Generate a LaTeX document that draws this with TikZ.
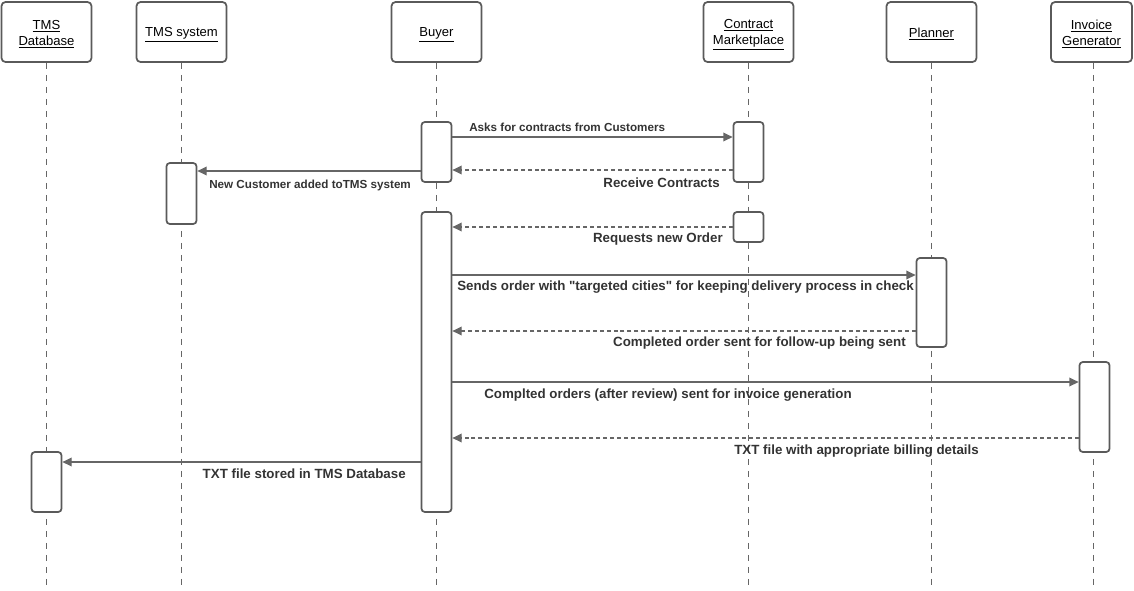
\documentclass[tikz,border=0pt]{standalone}
\usepackage{fontspec}
\setmainfont{Liberation Sans}[Ligatures=TeXOff]
\usetikzlibrary{arrows.meta}
\definecolor{linegray}{HTML}{666666}
\definecolor{boxgray}{HTML}{5A5A5A}
\definecolor{txtgray}{HTML}{333333}

\begin{document}
\begin{tikzpicture}[x=0.75pt,y=-0.75pt,>={Triangle[length=7pt,width=6.5pt]},
  actortext/.style={font=\fontsize{9.8}{12}\selectfont, text=black, align=center,
    inner sep=0pt, yshift=-1.8pt},
  actor/.style={draw=boxgray, line width=1.3pt, rounded corners=3pt, fill=white,
    minimum width=67.5pt, minimum height=45pt, inner sep=0pt,
    label={[actortext]center:#1}},
  lifeline/.style={draw=linegray, line width=0.8pt, dash pattern=on 4.5pt off 4.5pt},
  act/.style={draw=boxgray, line width=1.3pt, rounded corners=2.5pt, fill=white,
    minimum width=22.5pt, inner sep=0pt},
  msg/.style={draw=linegray, line width=1.05pt, ->},
  reply/.style={msg, dash pattern=on 3pt off 2.2pt},
  lbl/.style={font=\bfseries\fontsize{10}{12}\selectfont, text=txtgray, inner sep=0pt},
  smalllbl/.style={lbl, font=\bfseries\fontsize{8.75}{10.5}\selectfont}]

  \useasboundingbox (0,0) rectangle (1134,590);

  % Participants
  \node[actor={\underline{TMS}\\\underline{Database}}] (db) at (46.5,32) {};
  \node[actor={\underline{TMS system}}] (tms) at (181.5,32) {};
  \node[actor={\underline{Buyer}}] (buyer) at (436.5,32) {};
  \node[actor={\underline{Contract}\\\underline{Marketplace}}] (market) at (748.5,32) {};
  \node[actor={\underline{Planner}}] (planner) at (931.5,32) {};
  \node[actor={\underline{Invoice}\\\underline{Generator}}, minimum width=60.75pt] (invoice) at (1091.5,32) {};

  % Lifelines
  \coordinate (dbend) at (46.5,588);
  \coordinate (tmsend) at (181.5,588);
  \coordinate (buyerend) at (436.5,588);
  \coordinate (marketend) at (748.5,588);
  \coordinate (plannerend) at (931.5,588);
  \coordinate (invoiceend) at (1093.5,588);
  \draw[lifeline] (db) -- (dbend);
  \draw[lifeline] (tms) -- (tmsend);
  \draw[lifeline] (buyer) -- (buyerend);
  \draw[lifeline] (market) -- (marketend);
  \draw[lifeline] (planner) -- (plannerend);
  \draw[lifeline] (invoice.south -| invoiceend) -- (invoiceend);

  % Activations
  \node[act, minimum height=45pt] (buyerA) at (436.5,152) {};
  \node[act, minimum height=45pt] (marketA) at (748.5,152) {};
  \node[act, minimum height=45.75pt] (tmsA) at (181.5,193.5) {};
  \node[act, minimum height=225pt] (buyerB) at (436.5,362) {};
  \node[act, minimum height=22.5pt] (marketB) at (748.5,227) {};
  \node[act, minimum height=66.75pt] (plannerA) at (931.5,302.5) {};
  \node[act, minimum height=67.5pt] (invoiceA) at (1094.5,407) {};
  \node[act, minimum height=45pt] (dbA) at (46.5,482) {};

  % Messages
  \draw[msg] (buyerA.east |- 0,137) -- (marketA.west |- 0,137);
  \node[smalllbl, anchor=west] (asks) at (469,127) {Asks for contracts from Customers};

  \draw[reply] (marketA.west |- 0,170) -- (buyerA.east |- 0,170);
  \node[lbl, anchor=east] (receive) at (720,183) {Receive Contracts};

  \draw[msg] (buyerA.west |- 0,171) -- (tmsA.east |- 0,171);
  \node[smalllbl, anchor=west] (newcust) at (209,185) {New Customer added toTMS system};

  \draw[reply] (marketB.west) -- (buyerB.east |- marketB.west);
  \node[lbl, anchor=east] (requests) at (723,239) {Requests new Order};

  \draw[msg] (buyerB.east |- 0,275) -- (plannerA.west |- 0,275);
  \node[lbl, anchor=west] (sends) at (457,287) {Sends order with "targeted cities" for keeping delivery process in check};

  \draw[reply] (plannerA.west |- 0,331) -- (buyerB.east |- 0,331);
  \node[lbl, anchor=east] (completed) at (906,343) {Completed order sent for follow-up being sent};

  \draw[msg] (buyerB.east |- 0,382) -- (invoiceA.west |- 0,382);
  \node[lbl, anchor=west] (complted) at (484,395) {Complted orders (after review) sent for invoice generation};

  \draw[reply] (invoiceA.west |- 0,438) -- (buyerB.east |- 0,438);
  \node[lbl, anchor=west] (billing) at (734,451) {TXT file with appropriate billing details};

  \draw[msg] (buyerB.west |- 0,462) -- (dbA.east |- 0,462);
  \node[lbl, anchor=east] (stored) at (406,474) {TXT file stored in TMS Database};

\end{tikzpicture}
\end{document}
